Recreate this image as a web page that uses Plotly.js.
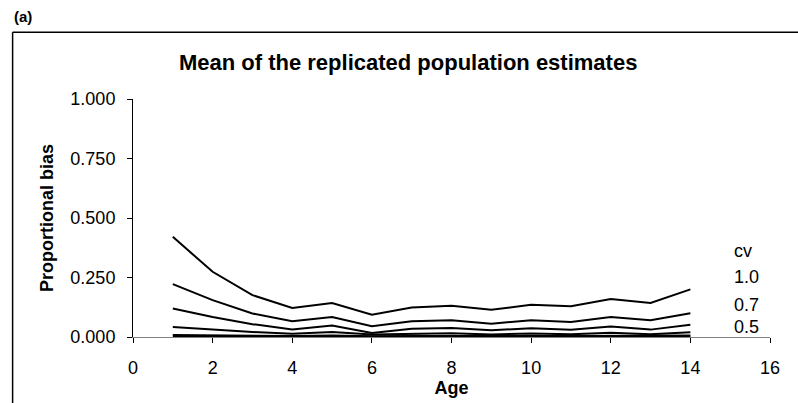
<!DOCTYPE html>
<html>
<head>
<meta charset="utf-8">
<script src="https://cdn.plot.ly/plotly-3.0.1.min.js"></script>
<style>html,body{margin:0;padding:0;background:#fff;}#chart{width:798px;height:403px;}</style>
</head>
<body>
<div id="chart"></div>
<script>
var ages = [1,2,3,4,5,6,7,8,9,10,11,12,13,14];
var cv10 = [0.421,0.274,0.176,0.122,0.143,0.094,0.124,0.131,0.115,0.135,0.129,0.160,0.143,0.200];
var cv07 = [0.222,0.155,0.099,0.066,0.084,0.045,0.066,0.070,0.056,0.070,0.063,0.084,0.070,0.100];
var cv05 = [0.120,0.084,0.054,0.032,0.048,0.017,0.035,0.038,0.028,0.037,0.030,0.044,0.031,0.051];
var cv03 = [0.042,0.031,0.021,0.014,0.021,0.010,0.014,0.016,0.011,0.015,0.012,0.018,0.012,0.020];
var cv02 = [0.008,0.006,0.005,0.004,0.006,0.003,0.004,0.005,0.004,0.004,0.004,0.005,0.004,0.006];
var cv01 = [0.002,0.002,0.001,0.001,0.002,0.001,0.001,0.001,0.001,0.001,0.001,0.002,0.001,0.002];
var series = [cv10, cv07, cv05, cv03, cv02, cv01];
var cvLabels = ["cv","1.0","0.7","0.5"];
var cvLabelY = [0.361,0.253,0.134,0.042];
var xTicks = [0,2,4,6,8,10,12,14,16];
var yTicks = [0,0.25,0.5,0.75,1];

var font = "Liberation Sans, Arial, sans-serif";
var traces = series.map(function(s){
  return {x: ages, y: s, type: 'scatter', mode: 'lines',
          line: {color: '#000', width: 2}, hoverinfo: 'skip'};
});

var annotations = cvLabels.map(function(t, i){
  return {x: 15.05, y: cvLabelY[i], xref: 'x', yref: 'y', text: t, showarrow: false,
          xanchor: 'left', yanchor: 'middle', font: {family: font, size: 18, color: '#000'}};
});
annotations.push({x: -0.19, y: 1.347, xref: 'paper', yref: 'paper', text: '<b>(a)</b>',
  showarrow: false, xanchor: 'left', yanchor: 'middle', font: {family: font, size: 15, color: '#000'}});

var layout = {
  width: 798, height: 403,
  margin: {l: 133, r: 28, t: 99, b: 66, pad: 0},
  paper_bgcolor: '#fff', plot_bgcolor: '#fff',
  showlegend: false,
  title: {text: '<b>Mean of the replicated population estimates</b>', x: 0.432, xref: 'paper',
          xanchor: 'center', y: 1 - 62/403, yref: 'container', yanchor: 'middle',
          font: {family: font, size: 22, color: '#000'}},
  xaxis: {range: [0,16], tickvals: xTicks, ticktext: xTicks.map(String), ticks: 'outside', ticklen: 5,
          tickcolor: '#000', showline: true, linecolor: '#808080', linewidth: 1, showgrid: false, zeroline: false,
          ticklabelstandoff: 9,
          tickfont: {family: font, size: 18, color: '#000'},
          title: {text: '<b>Age</b>', standoff: 0, font: {family: font, size: 18, color: '#000'}}},
  yaxis: {range: [0,1], tickvals: yTicks, ticktext: yTicks.map(function(v){return v.toFixed(3);}),
          ticks: 'outside', ticklen: 5, tickcolor: '#000', showline: true, linecolor: '#000', linewidth: 1,
          showgrid: false, zeroline: false, ticklabelstandoff: 8,
          tickfont: {family: font, size: 18, color: '#000'},
          title: {text: '<b>Proportional bias</b>', standoff: 12, font: {family: font, size: 18, color: '#000'}}},
  shapes: [
    {type: 'line', xref: 'paper', yref: 'paper', x0: -0.189, x1: -0.189, y0: 1.28, y1: -0.4, line: {color: '#000', width: 1.5}},
    {type: 'line', xref: 'paper', yref: 'paper', x0: -0.189, x1: 1.1, y0: 1.28, y1: 1.28, line: {color: '#000', width: 1.5}}
  ],
  annotations: annotations
};
Plotly.newPlot('chart', traces, layout, {staticPlot: true, displayModeBar: false});
</script>
</body>
</html>
